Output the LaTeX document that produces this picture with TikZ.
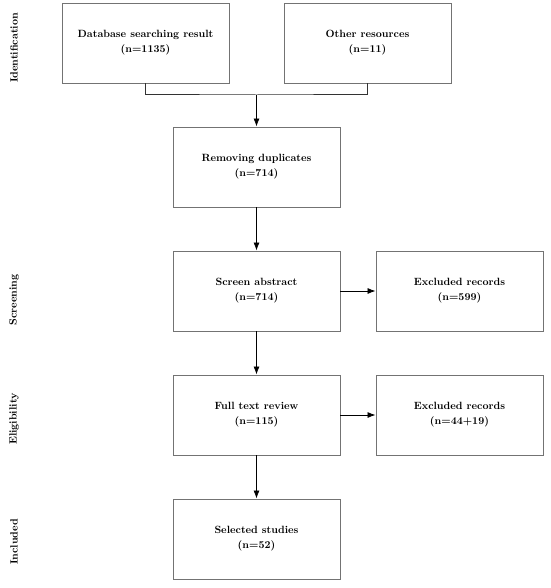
\documentclass[tikz,border=0pt]{standalone}
\usetikzlibrary{arrows.meta}
\begin{document}
\begin{tikzpicture}[x=1pt,y=-1pt,
  stagebox/.style={draw=black!55,line width=0.9pt,minimum width=167pt,minimum height=80pt,
    align=center,inner sep=2pt,font=\bfseries\fontsize{10.5}{15}\selectfont},
  phase/.style={rotate=90,font=\bfseries\fontsize{10.5}{13}\selectfont},
  arr/.style={line width=0.8pt,-{Latex[length=8pt,width=6pt]}},
  conn/.style={line width=1pt,draw=black!80}]
\useasboundingbox (0,0) rectangle (550,588);
\node[stagebox] (db) at (145.5,43) {Database searching result\\(n=1135)};
\node[stagebox] (oth) at (367.5,43) {Other resources\\(n=11)};
\node[stagebox] (rem) at (256.5,167) {Removing duplicates\\(n=714)};
\node[stagebox] (scr) at (256.5,291) {Screen abstract\\(n=714)};
\node[stagebox] (exa) at (459.5,291) {Excluded records\\(n=599)};
\node[stagebox] (full) at (256.5,415) {Full text review\\(n=115)};
\node[stagebox] (exb) at (459.5,415) {Excluded records\\(n=44+19)};
\node[stagebox] (sel) at (256.5,539) {Selected studies\\(n=52)};
\coordinate (j) at (256.5,95);
\draw[conn] (db.south) |- (j) -| (oth.south);
\draw[arr] (j) -- (rem.north);
\draw[arr] (rem) -- (scr);
\draw[arr] (scr) -- (exa);
\draw[arr] (scr) -- (full);
\draw[arr] (full) -- (exb);
\draw[arr] (full) -- (sel);
\node[phase] (p1) at (14,48) {Identification};
\node[phase] (p2) at (14,300) {Screening};
\node[phase] (p3) at (14,419) {Eligibility};
\node[phase] (p4) at (14,542) {Included};
\end{tikzpicture}
\end{document}
